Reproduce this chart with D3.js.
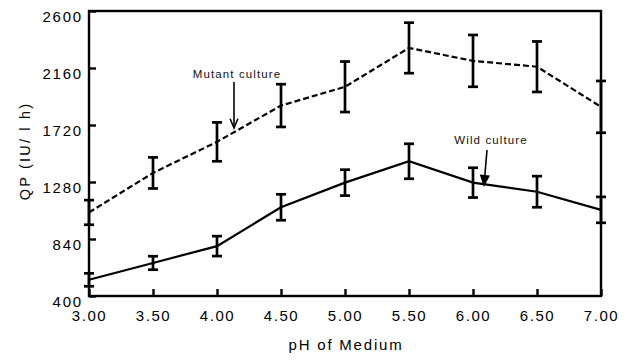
<!DOCTYPE html>
<html>
<head>
<meta charset="utf-8">
<script src="https://cdn.jsdelivr.net/npm/d3@7"></script>
<style>
  body { margin: 0; background: #fff; }
  svg { display: block; font-family: "Liberation Sans", Arial, sans-serif; }
</style>
</head>
<body>
<div id="chart"></div>
<script>
// pH values on the x axis
const phValues = [3.0, 3.5, 4.0, 4.5, 5.0, 5.5, 6.0, 6.5, 7.0];
// QP, mutant culture (dashed) and its error
const mutantQP = [1045, 1350, 1590, 1870, 2015, 2315, 2215, 2170, 1860];
const mutantErr = [95, 120, 150, 165, 195, 195, 200, 195, 200];
// QP, wild culture (solid) and its error
const wildQP = [525, 655, 785, 1085, 1275, 1440, 1275, 1205, 1065];
const wildErr = [50, 52, 77, 100, 100, 135, 115, 120, 100];
// tick labels
const xTicks = [3.0, 3.5, 4.0, 4.5, 5.0, 5.5, 6.0, 6.5, 7.0];
const yTicks = [400, 840, 1280, 1720, 2160, 2600];

const width = 630, height = 360;
const plot = { left: 89, right: 601, top: 11, bottom: 296 };

const svg = d3.select('#chart').append('svg')
  .attr('width', width)
  .attr('height', height);

const x = d3.scaleLinear().domain([3, 7]).range([plot.left, plot.right]);
const y = d3.scaleLinear().domain([400, 2600]).range([plot.bottom, plot.top]);

// frame
svg.append('rect')
  .attr('x', plot.left).attr('y', plot.top)
  .attr('width', plot.right - plot.left).attr('height', plot.bottom - plot.top)
  .attr('fill', 'none').attr('stroke', '#000').attr('stroke-width', 2.4);

// x axis
const gx = svg.append('g')
  .attr('transform', `translate(0,${plot.bottom})`)
  .call(d3.axisBottom(x).tickValues(xTicks).tickFormat(d3.format('.2f'))
    .tickSizeInner(-7).tickSizeOuter(0).tickPadding(14));
gx.select('.domain').remove();
gx.selectAll('.tick line').attr('stroke-width', 2.4);
gx.selectAll('.tick text')
  .attr('font-size', 15).attr('letter-spacing', 1.6).attr('fill', '#000');

// y axis
const gy = svg.append('g')
  .attr('transform', `translate(${plot.left},0)`)
  .call(d3.axisLeft(y).tickValues(yTicks).tickFormat(d3.format('d'))
    .tickSizeInner(-7).tickSizeOuter(0).tickPadding(6));
gy.select('.domain').remove();
gy.selectAll('.tick line').attr('stroke-width', 2.4);
gy.selectAll('.tick text')
  .attr('font-size', 15).attr('letter-spacing', 1.8).attr('dy', '0.68em').attr('fill', '#000');

// axis titles
svg.append('text')
  .attr('x', 346).attr('y', 350)
  .attr('text-anchor', 'middle')
  .attr('font-size', 15).attr('letter-spacing', 1.8)
  .text('pH of  Medium');

svg.append('text')
  .attr('transform', 'translate(30,151) rotate(-90)')
  .attr('text-anchor', 'middle')
  .attr('font-size', 14.5).attr('letter-spacing', 2.2)
  .text('QP (IU/ l h)');

const line = d3.line()
  .x((d, i) => x(phValues[i]))
  .y(d => y(d));

function drawSeries(values, errs, dashed) {
  const g = svg.append('g');
  g.append('path')
    .datum(values)
    .attr('d', line)
    .attr('fill', 'none')
    .attr('stroke', '#000')
    .attr('stroke-width', 2.2)
    .attr('stroke-dasharray', dashed ? '6,3' : null);

  const bars = g.selectAll('.err')
    .data(values.map((v, i) => ({ ph: phValues[i], v, e: errs[i] })))
    .join('g')
    .attr('class', 'err')
    .attr('stroke', '#000')
    .attr('stroke-width', 2.7);
  bars.append('line')
    .attr('x1', d => x(d.ph)).attr('x2', d => x(d.ph))
    .attr('y1', d => y(d.v - d.e)).attr('y2', d => y(d.v + d.e));
  bars.append('line')
    .attr('x1', d => x(d.ph) - 5).attr('x2', d => x(d.ph) + 5)
    .attr('y1', d => y(d.v + d.e)).attr('y2', d => y(d.v + d.e));
  bars.append('line')
    .attr('x1', d => x(d.ph) - 5).attr('x2', d => x(d.ph) + 5)
    .attr('y1', d => y(d.v - d.e)).attr('y2', d => y(d.v - d.e));
}

drawSeries(mutantQP, mutantErr, true);
drawSeries(wildQP, wildErr, false);

// annotations
function annotate(label, tx, ty, x1, y1, x2, y2, filled) {
  svg.append('text')
    .attr('x', tx).attr('y', ty)
    .attr('text-anchor', 'middle')
    .attr('font-size', 11.5).attr('letter-spacing', 1.1).attr('fill', '#111')
    .text(label);
  svg.append('line')
    .attr('x1', x1).attr('y1', y1).attr('x2', x2).attr('y2', y2)
    .attr('stroke', '#000').attr('stroke-width', 1.6);
  const ang = Math.atan2(y2 - y1, x2 - x1);
  const len = 10, spread = 0.4;
  const p = [
    [x2 - len * Math.cos(ang - spread), y2 - len * Math.sin(ang - spread)],
    [x2, y2],
    [x2 - len * Math.cos(ang + spread), y2 - len * Math.sin(ang + spread)]
  ];
  svg.append('path')
    .attr('d', d3.line()(p) + (filled ? 'Z' : ''))
    .attr('fill', filled ? '#000' : 'none')
    .attr('stroke', '#000').attr('stroke-width', 1.6);
}

annotate('Mutant culture', 237, 78, 234, 82, 234, 128, false);
annotate('Wild culture', 491, 144, 487, 150, 484, 185, true);
</script>
</body>
</html>
